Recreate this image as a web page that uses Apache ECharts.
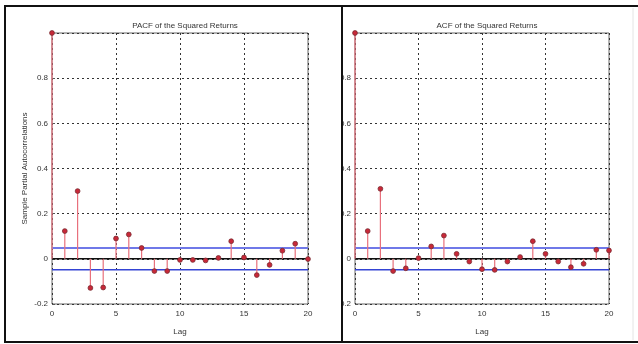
<!DOCTYPE html>
<html>
<head>
<meta charset="utf-8">
<script src="https://cdn.jsdelivr.net/npm/echarts@6/dist/echarts.min.js"></script>
<style>html,body{margin:0;padding:0;background:#fff;}#c{width:638px;height:344px;}</style>
</head>
<body>
<div id="c"></div>
<script>
const lags = [0,1,2,3,4,5,6,7,8,9,10,11,12,13,14,15,16,17,18,19,20];
const pacfValues = [1.0,0.123,0.30,-0.129,-0.127,0.09,0.108,0.048,-0.054,-0.054,-0.005,-0.005,-0.007,0.004,0.078,0.006,-0.072,-0.027,0.036,0.067,-0.001];
const acfValues = [1.0,0.123,0.31,-0.054,-0.042,0.003,0.055,0.103,0.022,-0.012,-0.046,-0.049,-0.012,0.008,0.078,0.022,-0.012,-0.037,-0.022,0.04,0.037];
const confBound = 0.048;
const xTicks = [0,5,10,15,20];
const yTicks = [-0.2,0,0.2,0.4,0.6,0.8,1];
const titles = ['PACF of the Squared Returns','ACF of the Squared Returns'];
const yName = 'Sample Partial Autocorrelations';
const xName = 'Lag';

const font = 'Liberation Sans, Arial, sans-serif';
const chart = echarts.init(document.getElementById('c'));

function stemSeries(vals, idx){
  return {
    type:'custom', xAxisIndex:idx, yAxisIndex:idx, z:5,
    data: lags.map((l,i)=>[l, vals[i]]),
    renderItem: function(params, api){
      const x = api.value(0), y = api.value(1);
      const p0 = api.coord([x,0]), p1 = api.coord([x,y]);
      return {type:'group', children:[
        {type:'line', shape:{x1:p0[0],y1:p0[1],x2:p1[0],y2:p1[1]}, style:{stroke:'#e8707c',lineWidth:1.2}},
        {type:'circle', shape:{cx:p1[0],cy:p1[1],r:2.4}, style:{fill:'#c82838',stroke:'#7a2a30',lineWidth:0.8}}
      ]};
    }
  };
}
function hLine(val, idx, color, w, z){
  return {type:'line', xAxisIndex:idx, yAxisIndex:idx, data:[[xTicks[0],val],[xTicks[xTicks.length-1],val]],
    symbol:'none', silent:true, z:z, lineStyle:{color:color,width:w}};
}
function xAx(idx){
  return {type:'value', gridIndex:idx, min:0, max:20, interval:5,
    name: xName, nameLocation:'middle', nameGap:24,
    nameTextStyle:{fontFamily:font,fontSize:8,color:'#333'},
    axisLine:{show:false}, axisTick:{inside:true,length:3,lineStyle:{color:'#555'}},
    axisLabel:{fontFamily:font,fontSize:8,color:'#333',margin:6},
    splitLine:{show:true,lineStyle:{color:'#333',type:[2,3],width:1}}};
}
function yAx(idx, withName){
  return {type:'value', gridIndex:idx, min:-0.2, max:1, interval:0.2,
    name: withName ? yName : '', nameLocation:'middle', nameGap:23,
    nameTextStyle:{fontFamily:font,fontSize:8,color:'#333'},
    axisLine:{show:false}, axisTick:{inside:true,length:3,lineStyle:{color:'#555'}},
    axisLabel:{fontFamily:font,fontSize:8,color:'#333',margin:4,showMaxLabel:false,
      formatter:v=>{const r=Math.round(v*10)/10; return r===0?'0':String(r);}},
    splitLine:{show:true,lineStyle:{color:'#333',type:[2,3],width:1}}};
}

chart.setOption({
  animation:false,
  backgroundColor:'#fff',
  title:[
    {text:titles[0], left:180, top:17, textAlign:'center', textStyle:{fontFamily:font,fontSize:8,fontWeight:'normal',color:'#333'}},
    {text:titles[1], left:482, top:17, textAlign:'center', textStyle:{fontFamily:font,fontSize:8,fontWeight:'normal',color:'#333'}}
  ],
  grid:[
    {left:52, width:256, top:33, height:271, show:true, borderColor:'#666', borderWidth:1, backgroundColor:'#fff'},
    {left:355, width:254, top:33, height:271, show:true, borderColor:'#666', borderWidth:1, backgroundColor:'#fff'}
  ],
  xAxis:[xAx(0), xAx(1)],
  yAxis:[yAx(0,true), yAx(1,false)],
  series:[
    hLine(confBound,0,'#6f78e8',2,3), hLine(-confBound,0,'#3444d4',1.5,3), hLine(0,0,'#111',1.5,4),
    stemSeries(pacfValues,0),
    hLine(confBound,1,'#6f78e8',2,3), hLine(-confBound,1,'#3444d4',1.5,3), hLine(0,1,'#111',1.5,4),
    stemSeries(acfValues,1)
  ],
  graphic:[
    {type:'rect', z:100, shape:{x:315,y:20,width:26,height:320}, style:{fill:'#fff'}},
    {type:'line', z:101, shape:{x1:5,y1:6,x2:638,y2:6}, style:{stroke:'#111',lineWidth:2}},
    {type:'line', z:101, shape:{x1:5,y1:5,x2:5,y2:343}, style:{stroke:'#111',lineWidth:2}},
    {type:'line', z:101, shape:{x1:4,y1:342,x2:638,y2:342}, style:{stroke:'#111',lineWidth:2}},
    {type:'line', z:101, shape:{x1:342,y1:5,x2:342,y2:343}, style:{stroke:'#111',lineWidth:2}},
    {type:'line', z:101, shape:{x1:633,y1:8,x2:633,y2:340}, style:{stroke:'#e4e4e4',lineWidth:1}}
  ]
});
</script>
</body>
</html>
